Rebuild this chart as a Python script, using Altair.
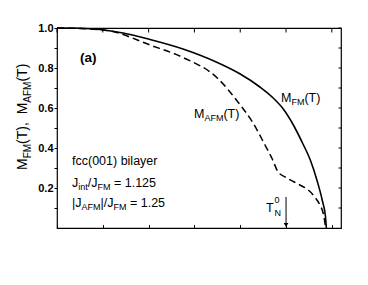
import altair as alt
import pandas as pd

# ---- data (T in tick units, M normalised) ----
T_FM = [0.0, 0.50, 0.94, 1.44, 2.03, 2.75, 3.50, 4.00, 4.43, 4.72, 4.94, 5.16, 5.37, 5.53, 5.68, 5.80, 5.86, 5.88]
M_FM = [1.0, 0.999, 0.9925, 0.975, 0.9425, 0.895, 0.8275, 0.77, 0.705, 0.65, 0.595, 0.515, 0.42, 0.34, 0.235, 0.13, 0.06, 0.0]
T_AFM = [0.0, 0.72, 1.16, 2.03, 2.75, 3.50, 3.95, 4.28, 4.54, 4.70, 4.82, 4.98, 5.18, 5.61, 5.74, 5.81, 5.86]
M_AFM = [1.0, 0.995, 0.985, 0.915, 0.8525, 0.75, 0.63, 0.525, 0.415, 0.345, 0.2825, 0.255, 0.23, 0.16, 0.115, 0.075, 0.01]
X_TICKS = [0, 1, 2, 3, 4, 5, 6]
Y_TICKS = [0.1, 0.2, 0.3, 0.4, 0.5, 0.6, 0.7, 0.8, 0.9, 1.0]
T_N0 = 5.0
ARROW_TOP = 0.155

FONT = "Liberation Sans"
W_PX, H_PX = 284, 200

fm = pd.DataFrame({"T": T_FM, "M": M_FM})
afm = pd.DataFrame({"T": T_AFM, "M": M_AFM})
xt = pd.DataFrame({"v": X_TICKS})
yt = pd.DataFrame({"v": Y_TICKS})

xs = alt.Scale(domain=[0, 6.2], nice=False, zero=False)
ys = alt.Scale(domain=[0, 1], nice=False, zero=False)

ax_bottom = alt.Axis(orient="bottom", values=X_TICKS, labels=False, title=None, grid=False,
                     domain=False, ticks=True, tickSize=3.5, offset=-3.5, tickColor="black", tickWidth=1)
ax_left = alt.Axis(orient="left", values=Y_TICKS, title=None, grid=False, domain=False,
                   tickSize=3, tickColor="black", tickWidth=1, labelPadding=1,
                   labelFont=FONT, labelFontSize=11, labelFontWeight="bold", labelColor="black",
                   labelExpr="round(datum.value*10) % 2 == 0 ? format(datum.value, '.1f') : ''")

solid = alt.Chart(fm).mark_line(color="black", strokeWidth=1.6, interpolate="monotone").encode(
    x=alt.X("T:Q", scale=xs, axis=ax_bottom),
    y=alt.Y("M:Q", scale=ys, axis=ax_left),
)
dashed = alt.Chart(afm).mark_line(color="black", strokeWidth=1.5, strokeDash=[7, 4],
                                  interpolate="monotone").encode(
    x=alt.X("T:Q", scale=xs, axis=None),
    y=alt.Y("M:Q", scale=ys, axis=None),
)

# inward ticks on top and right edges
top_ticks = alt.Chart(xt).mark_rule(color="black", strokeWidth=1).encode(
    x=alt.X("v:Q", scale=xs, axis=None), y=alt.value(0), y2=alt.value(4.5)
)
right_ticks = alt.Chart(yt).mark_rule(color="black", strokeWidth=1).encode(
    y=alt.Y("v:Q", scale=ys, axis=None), x=alt.value(W_PX - 2.5), x2=alt.value(W_PX)
)

arrow_df = pd.DataFrame({"T": [T_N0], "top": [ARROW_TOP], "bot": [0.02], "tip": [0.015]})
arrow_line = alt.Chart(arrow_df).mark_rule(color="black", strokeWidth=1).encode(
    x=alt.X("T:Q", scale=xs, axis=None),
    y=alt.Y("top:Q", scale=ys, axis=None),
    y2="bot:Q",
)
arrow_head = alt.Chart(arrow_df).mark_point(shape="triangle-down", filled=True, color="black",
                                            size=22, opacity=1).encode(
    x=alt.X("T:Q", scale=xs, axis=None),
    y=alt.Y("tip:Q", scale=ys, axis=None),
)

# ---- rich text helpers (Arial/Liberation Sans advance widths, 1/1000 em) ----
WID = {" ": 278, "(": 333, ")": 333, ",": 278, ".": 278, "/": 278, "=": 584, "|": 260,
       "0": 556, "1": 556, "2": 556, "5": 556, "A": 667, "F": 611, "J": 500, "M": 833,
       "N": 722, "T": 611, "a": 556, "b": 556, "c": 500, "e": 556, "f": 278, "i": 222,
       "l": 222, "n": 556, "r": 333, "t": 278, "y": 500}
WID_B = {"(": 333, ")": 333, "a": 556}

one = pd.DataFrame({"k": [0]})


def tw(s, size, bold=False):
    tab = WID_B if bold else WID
    return sum(tab.get(c, 556) for c in s) / 1000.0 * size


def rich(segs, x, y, angle=0):
    out = []
    pos = 0.0
    for text, size, dy, bold in segs:
        lead = len(text) - len(text.lstrip())
        stripped = text.strip()
        off = pos + tw(text[:lead], size, bold)
        if stripped:
            if angle == 0:
                px, py = x + off, y + dy
            else:
                px, py = x + dy, y - off
            out.append(
                alt.Chart(one).mark_text(
                    align="left", baseline="alphabetic", font=FONT, fontSize=size,
                    fontWeight="bold" if bold else "normal", color="black", angle=angle,
                ).encode(x=alt.value(px), y=alt.value(py), text=alt.value(stripped))
            )
        pos += tw(text, size, bold)
    return out


M, S, D = 12.5, 9, 3.3
texts = []
texts += rich([("(a)", 13.5, 0, True)], 23, 34)
texts += rich([("M", M, 0, False), ("FM", S, D, False), ("(T)", M, 0, False)], 224, 73.7)
texts += rich([("M", M, 0, False), ("AFM", S, D, False), ("(T)", M, 0, False)], 137, 89.5)
texts += rich([("fcc(001) bilayer", M, 0, False)], 15, 137)
texts += rich([("J", M, 0, False), ("int", S, D, False), ("/J", M, 0, False), ("FM", S, D, False),
               (" = 1.125", M, 0, False)], 15, 158.7)
texts += rich([("|J", M, 0, False), ("AFM", S, D, False), ("|/J", M, 0, False), ("FM", S, D, False),
               (" = 1.25", M, 0, False)], 15, 178.5)
texts += rich([("T", M, 0, False)], 209, 183.7)
texts += rich([("0", S, 0, False)], 217.5, 175.3)
texts += rich([("N", S, 0, False)], 217.5, 187.5)
# rotated y-axis title
texts += rich([("M", 14, 0, False), ("FM", 10, 3.5, False), ("(T),", 14, 0, False), ("  ", 14, 0, False),
               ("M", 14, 0, False), ("AFM", 10, 3.5, False), ("(T)", 14, 0, False)], -30, 142, angle=270)

chart = alt.layer(solid, dashed, top_ticks, right_ticks, arrow_line, arrow_head, *texts).resolve_axis(
    x="independent", y="independent"
).properties(
    width=W_PX, height=H_PX,
    autosize=alt.AutoSizeParams(type="none"),
    padding={"left": 49, "top": 20, "right": 19, "bottom": 49},
).configure_view(stroke="black", strokeWidth=1.2)

chart.save("out.html", embed_options={"renderer": "svg", "actions": False})
